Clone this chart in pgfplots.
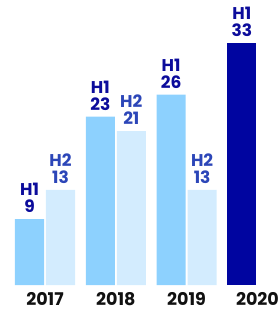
\documentclass[border=0pt]{standalone}
\usepackage{pgfplots}
\pgfplotsset{compat=1.18}
\usepackage{fontspec}
\setmainfont{Poppins}
\definecolor{hone}{RGB}{141,209,254}
\definecolor{htwo}{RGB}{211,236,254}
\definecolor{hdark}{RGB}{0,5,160}
\definecolor{lblone}{RGB}{12,12,155}
\definecolor{lbltwo}{RGB}{44,70,184}
\definecolor{yeartxt}{RGB}{17,17,17}
\tikzset{lbl/.style={align=center, font=\bfseries\fontsize{17}{17}\selectfont, inner sep=0pt, yshift=6pt, anchor=south},
  yr/.style={font=\bfseries\fontsize{17.5}{17}\selectfont, text=yeartxt, inner sep=0pt, text height=12pt, text depth=0pt, anchor=base}}
\begin{document}
\begin{tikzpicture}
\begin{axis}[
  scale only axis, width=277pt, height=309pt,
  xmin=-0.6356, xmax=3.2768, ymin=-3.27, ymax=38.9,
  hide axis, clip=false,
  ybar, bar width=0.41,
  /pgf/number format/assume math mode=true,
]
\addplot[fill=hone, draw=none, bar shift=-0.219,
  nodes near coords={H1\\\pgfmathprintnumber{\pgfplotspointmeta}},
  every node near coord/.append style={lbl, text=lblone}]
  coordinates {(0,9) (1,23) (2,26)};
\addplot[fill=htwo, draw=none, bar shift=0.219,
  nodes near coords={H2\\\pgfmathprintnumber{\pgfplotspointmeta}},
  every node near coord/.append style={lbl, text=lbltwo}]
  coordinates {(0,13) (1,21) (2,13)};
\addplot[fill=hdark, draw=none, bar shift=-0.219,
  nodes near coords={H1\\\pgfmathprintnumber{\pgfplotspointmeta}},
  every node near coord/.append style={lbl, text=lblone}]
  coordinates {(3,33)};
\node[yr] at (axis cs:0,-2.85) {2017};
\node[yr] at (axis cs:1,-2.85) {2018};
\node[yr] at (axis cs:2,-2.85) {2019};
\node[yr] at (axis cs:3,-2.85) {2020};
\path (rel axis cs:0,0) rectangle (rel axis cs:1,1);
\end{axis}
\end{tikzpicture}
\end{document}
